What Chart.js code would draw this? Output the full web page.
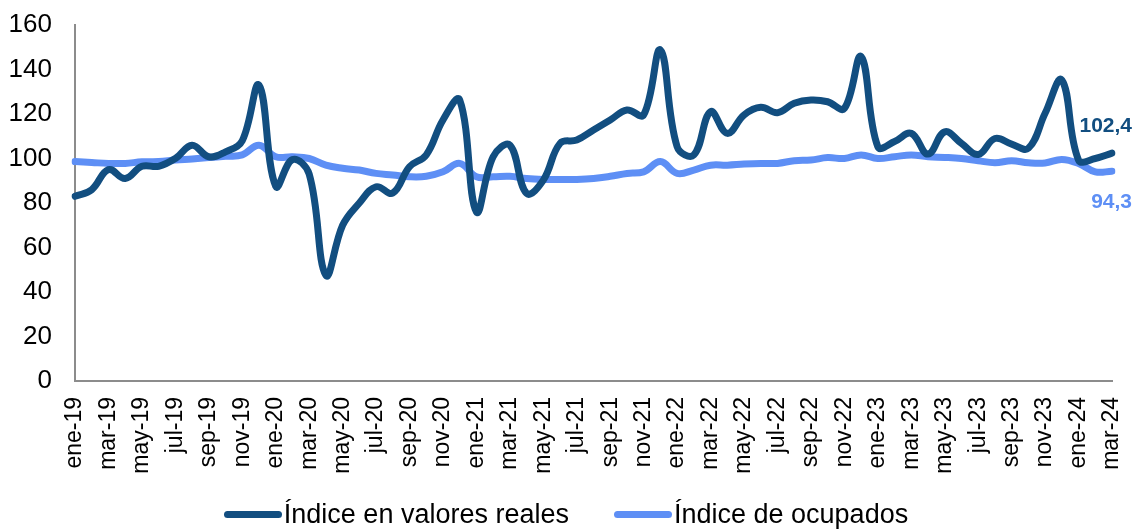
<!DOCTYPE html>
<html lang="es">
<head>
<meta charset="utf-8">
<script src="https://cdn.jsdelivr.net/npm/chart.js@4.4.1/dist/chart.umd.min.js"></script>
<style>
  html, body { margin: 0; padding: 0; background: #fff; }
  #wrap { position: relative; width: 1138px; height: 529px; }
  #legend {
    position: absolute; left: 0; top: 499px; width: 1132px; height: 30px;
    display: flex; justify-content: center; align-items: center; gap: 45px;
    font-family: "Liberation Sans", Arial, sans-serif; font-size: 27px; color: #000;
  }
  #legend .item { display: flex; align-items: center; }
  #legend .line { width: 58px; height: 7px; border-radius: 4px; margin-right: 2px; }
</style>
</head>
<body>
<div id="wrap">
  <canvas id="chart" width="1138" height="529"></canvas>
  <div id="legend"></div>
</div>
<script>
const months = ["ene", "feb", "mar", "abr", "may", "jun", "jul", "ago", "sep", "oct", "nov", "dic"];
const years = ["19", "20", "21", "22", "23", "24"];
const lastMonthCount = 3; // datos hasta mar-24

const labels = [];
years.forEach((y, yi) => {
  const n = yi === years.length - 1 ? lastMonthCount : 12;
  for (let m = 0; m < n; m++) labels.push(`${months[m]}-${y}`);
});

// Índice en valores reales
const valoresReales = [
  83, 86, 95, 91, 96.5, 96.5, 100, 106, 100.8, 103, 108, 133,
  87.5, 99.5, 93, 47.5, 70, 80, 87.3, 84.5, 96.3, 101.6, 117.3, 126.3,
  76, 100.8, 106, 84.3, 90.3, 106.8, 108.3, 112.8, 117.3, 121.8, 119.6, 148.8,
  105.3, 101.6, 121, 111.3, 119.6, 123, 120.6, 124.8, 126.3, 125.5, 122.5, 145.8,
  105.3, 107.6, 111.3, 102, 112, 106.8, 101.8, 109, 106.5, 104.6, 120.3, 135.3,
  99.3, 100, 102.4,
];

// Índice de ocupados
const ocupados = [
  98.6, 98.2, 97.8, 97.8, 98.5, 98.6, 99.3, 99.8, 100.4, 101, 101.6, 106,
  100.8, 100.8, 100, 97, 95.6, 94.8, 93.3, 92.6, 91.8, 92, 94, 97.8,
  91.8, 91.8, 92, 91, 90.6, 90.6, 90.6, 91, 92, 93.3, 94, 98.6,
  93.3, 94.8, 97, 97, 97.5, 97.8, 97.8, 99, 99.3, 100.4, 100, 101.6,
  100, 100.8, 101.6, 100.8, 100.5, 100, 99, 98.1, 99, 98.1, 98, 99.6,
  97.8, 94, 94.3,
];

const seriesNames = ["Índice en valores reales", "Índice de ocupados"];
const seriesColors = ["#124e80", "#5e8ff5"];
const yTicks = { min: 0, max: 160, step: 20 };

const fmt = (v) => v.toFixed(1).replace(".", ",");

const endLabels = {
  id: "endLabels",
  afterDatasetsDraw(chart) {
    const { ctx } = chart;
    ctx.save();
    ctx.font = "bold 21px 'Liberation Sans', Arial, sans-serif";
    ctx.textAlign = "right";
    chart.data.datasets.forEach((ds, i) => {
      const meta = chart.getDatasetMeta(i);
      const pt = meta.data[meta.data.length - 1];
      const v = ds.data[ds.data.length - 1];
      ctx.fillStyle = ds.borderColor;
      const dy = i === 0 ? -21 : 37;
      ctx.fillText(fmt(v), pt.x + 20, pt.y + dy);
    });
    ctx.restore();
  },
};

const ctx = document.querySelector("#chart");
new Chart(ctx, {
  type: "line",
  data: {
    labels,
    datasets: [
      {
        label: seriesNames[0],
        data: valoresReales,
        borderColor: seriesColors[0],
        borderWidth: 7,
        pointRadius: 0,
        tension: 0.4,
        borderCapStyle: "round",
        borderJoinStyle: "round",
      },
      {
        label: seriesNames[1],
        data: ocupados,
        borderColor: seriesColors[1],
        borderWidth: 7,
        pointRadius: 0,
        tension: 0.4,
        borderCapStyle: "round",
        borderJoinStyle: "round",
      },
    ],
  },
  options: {
    responsive: false,
    animation: false,
    layout: { padding: { top: 25, right: 26, bottom: 40, left: 0 } },
    plugins: { legend: { display: false }, tooltip: { enabled: false } },
    scales: {
      x: {
        grid: { display: false },
        border: { display: true, color: "#8c8c8c", width: 2 },
        afterFit: (scale) => {
          scale.height = 108;
          scale.paddingLeft = 0;
          scale.paddingRight = 0;
        },
        ticks: {
          autoSkip: false,
          maxRotation: 90,
          minRotation: 90,
          padding: 8,
          color: "#000",
          font: { family: "'Liberation Sans', Arial, sans-serif", size: 23 },
          callback: (val, idx) => (idx % 2 === 0 ? labels[idx] : ""),
        },
      },
      y: {
        min: yTicks.min,
        max: yTicks.max,
        grid: { display: false },
        border: { display: true, color: "#8c8c8c", width: 2 },
        afterFit: (scale) => {
          scale.width = 75;
          scale.paddingTop = 0;
          scale.paddingBottom = 0;
        },
        ticks: {
          stepSize: yTicks.step,
          padding: 15,
          color: "#000",
          font: { family: "'Liberation Sans', Arial, sans-serif", size: 26 },
        },
      },
    },
  },
  plugins: [endLabels],
});

const legend = document.querySelector("#legend");
legend.innerHTML = seriesNames
  .map(
    (name, i) =>
      `<div class="item"><span class="line" style="background:${seriesColors[i]}"></span><span>${name}</span></div>`,
  )
  .join("");
</script>
</body>
</html>
